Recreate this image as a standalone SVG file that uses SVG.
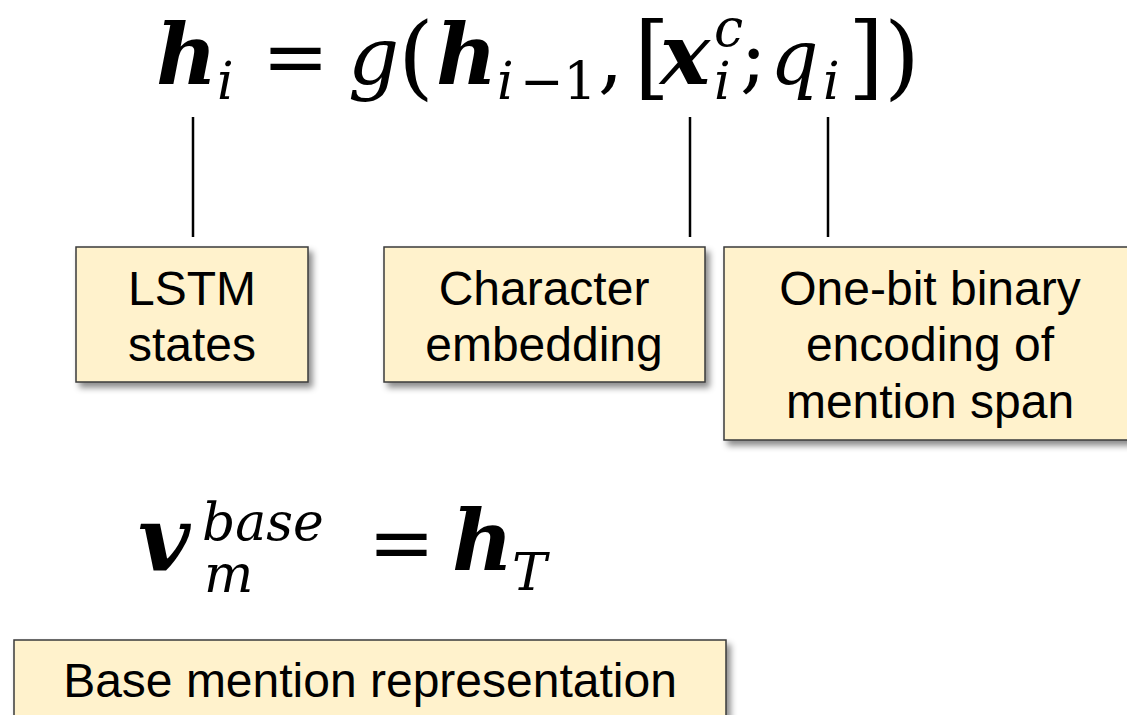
<svg xmlns="http://www.w3.org/2000/svg" width="1127" height="715" viewBox="0 0 1127 715">
<defs>
<filter id="sh" x="-10%" y="-10%" width="130%" height="140%">
<feDropShadow dx="4" dy="5" stdDeviation="3" flood-color="#000" flood-opacity="0.45"/>
</filter>
</defs>
<style>
.box{fill:#FFF2CC;stroke:#3a3a3a;stroke-width:1.5;filter:url(#sh)}
.lbl{font-family:"Liberation Sans",Arial,sans-serif;font-size:48px;fill:#000;text-anchor:middle}
.m{font-family:"DejaVu Serif",serif;fill:#000}
.bi{font-weight:bold;font-style:italic;font-size:84px}
.it{font-style:italic;font-size:80px}
.up{font-size:80px}
.br{font-size:92px}
.sb{font-style:italic;font-size:52px}
.con{stroke:#000;stroke-width:2.5;fill:none}
</style>
<rect width="1127" height="715" fill="#fff"/>
<g id="formula1" class="m">
<text x="156" y="84" class="m bi">h</text>
<text x="217" y="99" class="m sb">i</text>
<text x="262" y="84" class="m up">=</text>
<text x="348" y="84" class="m it">g</text>
<text x="398" y="88" class="m br">(</text>
<text x="436" y="84" class="m bi">h</text>
<text x="497" y="99" class="m sb">i</text>
<text x="520" y="99" class="m sb" style="font-style:normal">−1</text>
<text x="598" y="84" class="m up">,</text>
<text x="634" y="88" class="m br">[</text>
<text x="660" y="84" class="m bi">x</text>
<text x="714" y="46" class="m sb">c</text>
<text x="714" y="99" class="m sb">i</text>
<text x="740" y="84" class="m up">;</text>
<text x="770" y="84" class="m it" style="font-size:76px">q</text>
<text x="823" y="99" class="m sb">i</text>
<text x="848" y="88" class="m br">]</text>
<text x="884" y="88" class="m br">)</text>
</g>
<g id="connectors">
<line class="con" x1="193" y1="117" x2="193" y2="237"/>
<line class="con" x1="690" y1="117" x2="690" y2="237"/>
<line class="con" x1="828" y1="117" x2="828" y2="237"/>
</g>
<g id="lstm">
<rect class="box" x="76" y="247" width="232" height="135"/>
<text class="lbl" x="192" y="305">LSTM</text>
<text class="lbl" x="192" y="361">states</text>
</g>
<g id="char">
<rect class="box" x="384" y="247" width="321" height="135"/>
<text class="lbl" x="544" y="305">Character</text>
<text class="lbl" x="544" y="361">embedding</text>
</g>
<g id="onebit">
<rect class="box" x="724" y="247" width="420" height="193"/>
<text class="lbl" x="930" y="305">One-bit binary</text>
<text class="lbl" x="930" y="361">encoding of</text>
<text class="lbl" x="930" y="418">mention span</text>
</g>
<g id="formula2" class="m">
<text x="138" y="570" class="m bi" style="font-size:90px">v</text>
<text x="202" y="540" class="m sb">base</text>
<text x="204" y="592" class="m sb">m</text>
<text x="368" y="570" class="m up">=</text>
<text x="452" y="570" class="m bi">h</text>
<text x="512" y="590" class="m sb">T</text>
</g>
<g id="base">
<rect class="box" x="14" y="640" width="712" height="100"/>
<text class="lbl" x="370" y="697">Base mention representation</text>
</g>
</svg>
